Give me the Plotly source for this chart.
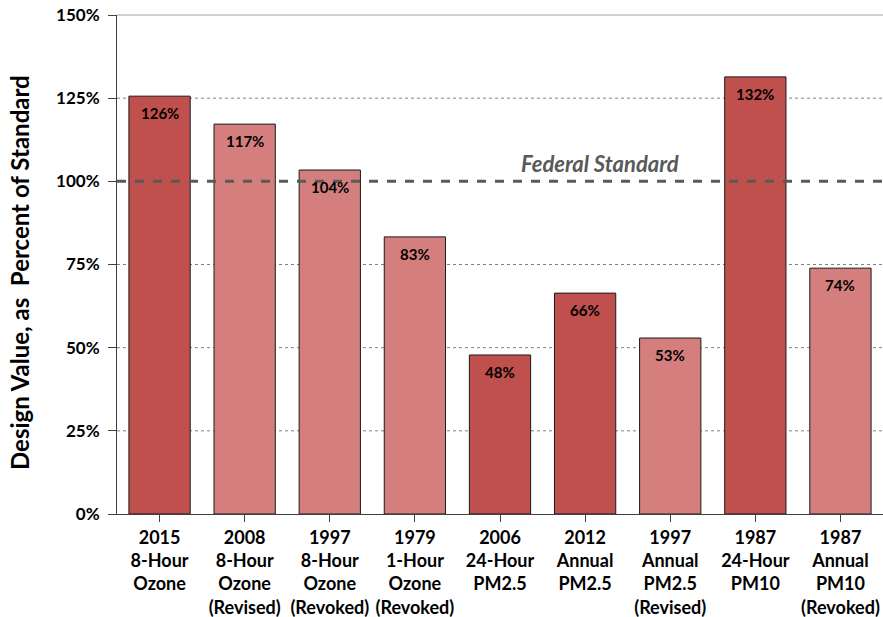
import plotly.graph_objects as go

categories = ["2015<br>8-Hour<br>Ozone", "2008<br>8-Hour<br>Ozone<br>(Revised)", "1997<br>8-Hour<br>Ozone<br>(Revoked)",
              "1979<br>1-Hour<br>Ozone<br>(Revoked)", "2006<br>24-Hour<br>PM2.5", "2012<br>Annual<br>PM2.5",
              "1997<br>Annual<br>PM2.5<br>(Revised)", "1987<br>24-Hour<br>PM10", "1987<br>Annual<br>PM10<br>(Revoked)"]
values = [125.6, 117.2, 103.4, 83.3, 47.8, 66.4, 52.9, 131.4, 73.9]
labels = ["126%", "117%", "104%", "83%", "48%", "66%", "53%", "132%", "74%"]
current = [True, False, False, False, True, True, False, True, False]
tick_vals = [0, 25, 50, 75, 100, 125, 150]
tick_text = ["0%", "25%", "50%", "75%", "100%", "125%", "150%"]
standard = 100

DARK = "#C0504D"
LIGHT = "#D47F7E"
FONT = "Lato, Carlito, sans-serif"

fig = go.Figure()
# dotted gridlines, except the standard line and the top line
for v in tick_vals:
    if v in (0, standard, 150):
        continue
    fig.add_shape(type="line", xref="paper", x0=0, x1=1, yref="y", y0=v, y1=v, layer="below",
                  line=dict(color="#808080", width=1, dash="dot"))
# solid top line
fig.add_shape(type="line", xref="paper", x0=0, x1=1, yref="paper", y0=1, y1=1, layer="below",
              line=dict(color="#a0a0a0", width=1))

fig.add_trace(go.Bar(
    x=list(range(len(categories))), y=values,
    marker=dict(color=[DARK if c else LIGHT for c in current], line=dict(color="#1a1a1a", width=1)),
    width=0.72, hoverinfo="skip"
))
for i, (v, t) in enumerate(zip(values, labels)):
    fig.add_annotation(x=i, y=v, text="<b>%s</b>" % t, showarrow=False, yanchor="top", yshift=-6,
                       font=dict(family=FONT, size=15, color="black"))

fig.add_shape(type="line", xref="paper", x0=0, x1=1, yref="y", y0=standard, y1=standard,
              line=dict(color="#595959", width=3, dash="dash"), layer="above")
fig.add_annotation(xref="paper", x=0.6305, y=standard, yshift=18, text="<b><i>Federal Standard</i></b>",
                   showarrow=False, font=dict(family=FONT, size=22, color="#595959"))

# y-axis title
fig.add_annotation(xref="paper", yref="paper", x=-0.1266, y=0.483, textangle=-90,
                   text="<b>Design Value, as  Percent of Standard</b>", showarrow=False,
                   xanchor="center", yanchor="middle", font=dict(family=FONT, size=24, color="black"))

fig.update_layout(
    width=883, height=617, margin=dict(l=117, r=0, t=15, b=103, autoexpand=False),
    plot_bgcolor="white", paper_bgcolor="white", showlegend=False, bargap=0.28,
    font=dict(family=FONT, color="black"),
    xaxis=dict(tickmode="array", tickvals=list(range(len(categories))),
               ticktext=["<b>%s</b>" % c for c in categories], automargin=False,
               range=[-0.5, len(categories) - 0.5], tickson="boundaries", ticks="outside", ticklen=7,
               tickcolor="#404040", showline=True, linecolor="#404040", linewidth=1,
               tickfont=dict(family=FONT, size=18, color="black"), showgrid=False,
               ticklabeloverflow="allow"),
    yaxis=dict(range=[0, 150], tickmode="array", tickvals=tick_vals, ticktext=["<b>%s</b>" % t for t in tick_text],
               ticks="outside", ticklen=8, tickcolor="#404040", showline=True, linecolor="#404040", linewidth=1,
               showgrid=False, ticklabelstandoff=5, ticklabeloverflow="allow", automargin=False,
               tickfont=dict(family=FONT, size=17, color="black"), zeroline=False),
)
fig.write_html("out.html", config={"displayModeBar": False},
               post_script="document.body.style.margin='0';document.body.style.overflow='hidden';")
